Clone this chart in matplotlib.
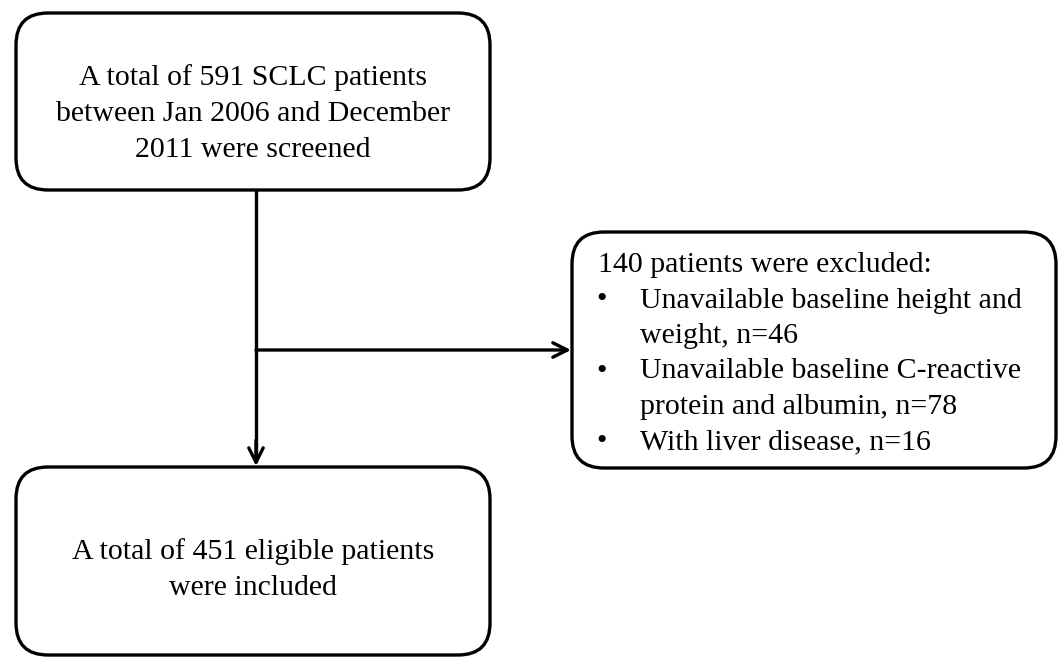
import matplotlib.pyplot as plt
from matplotlib.patches import FancyBboxPatch

plt.rcParams['font.family'] = ['Liberation Serif', 'DejaVu Serif']

# texts of the boxes
top_lines = ["A total of 591 SCLC patients",
             "between Jan 2006 and December",
             "2011 were screened"]
bottom_lines = ["A total of 451 eligible patients",
                "were included"]
excl_title = "140 patients were excluded:"
excl_items = [["Unavailable baseline height and", "weight, n=46"],
              ["Unavailable baseline C-reactive", "protein and albumin, n=78"],
              ["With liver disease, n=16"]]

fig = plt.figure(figsize=(10.61, 6.57), dpi=100)
ax = fig.add_axes([0, 0, 1, 1])
ax.set_xlim(0, 1061)
ax.set_ylim(657, 0)
ax.axis('off')

lw = 2.4
fs = 21.5


def box(x0, y0, x1, y1, r):
    p = FancyBboxPatch((x0 + r, y0 + r), x1 - x0 - 2 * r, y1 - y0 - 2 * r,
                       boxstyle=f"round,pad={r},rounding_size={r}",
                       fc='white', ec='black', lw=lw)
    ax.add_patch(p)


# boxes
box(16, 13, 490, 190, 32)
box(572, 232, 1056, 468, 32)
box(16, 467, 490, 655, 32)

# connectors
ax.plot([256, 256], [190, 462], color='black', lw=lw, solid_capstyle='butt')
ax.annotate("", xy=(256, 466), xytext=(256, 440),
            arrowprops=dict(arrowstyle='->', lw=lw, color='black',
                            mutation_scale=26, shrinkA=0, shrinkB=0))
ax.annotate("", xy=(571, 350), xytext=(256, 350),
            arrowprops=dict(arrowstyle='->', lw=lw, color='black',
                            mutation_scale=26, shrinkA=0, shrinkB=0))

# top box text
for i, s in enumerate(top_lines):
    ax.text(253, 85 + i * 36, s, ha='center', va='baseline', fontsize=fs)

# bottom box text
for i, s in enumerate(bottom_lines):
    ax.text(253, 559 + i * 36, s, ha='center', va='baseline', fontsize=fs)

# exclusion box text
ax.text(598, 272, excl_title, ha='left', va='baseline', fontsize=fs)
y = 272
for item in excl_items:
    for j, s in enumerate(item):
        y += 35.5
        if j == 0:
            ax.text(596, y, "\u2022", ha='left', va='baseline', fontsize=fs)
        ax.text(640, y, s, ha='left', va='baseline', fontsize=fs)

fig.savefig('out.png', dpi=100)
